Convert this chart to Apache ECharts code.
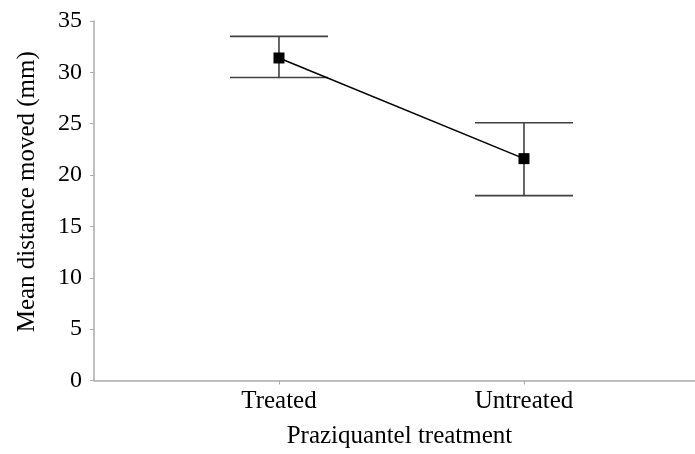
<!DOCTYPE html>
<html>
<head>
<meta charset="utf-8">
<script src="https://cdn.jsdelivr.net/npm/echarts@6/dist/echarts.min.js"></script>
<style>html,body{margin:0;padding:0;background:#fff}#c{width:695px;height:454px}</style>
</head>
<body>
<div id="c"></div>
<script>
var categories = ['Treated', 'Untreated'];
var means = [31.4, 21.6];
var upper = [33.5, 25.1];
var lower = [29.5, 18.0];
var yTicks = [0, 5, 10, 15, 20, 25, 30, 35];

var FONT = '"Liberation Serif", "Times New Roman", serif';
var chart = echarts.init(document.getElementById('c'), null, {renderer: 'canvas'});

var lineData = categories.map(function (c, i) { return [i, means[i]]; });
var errData = categories.map(function (c, i) { return [i, lower[i], upper[i]]; });

chart.setOption({
  animation: false,
  backgroundColor: '#ffffff',
  grid: {left: 94, right: 0, top: 21, bottom: 72, containLabel: false},
  xAxis: {
    type: 'value',
    min: -0.755,
    max: 1.698,
    name: 'Praziquantel treatment',
    nameLocation: 'middle',
    nameGap: 56,
    nameTextStyle: {fontFamily: FONT, fontSize: 25, color: '#000', verticalAlign: 'middle', padding: [0, 0, 0, 10]},
    splitLine: {show: false},
    axisLine: {show: true, onZero: false, lineStyle: {color: '#aaaaaa', width: 1.5}},
    axisTick: {show: true, length: 4, customValues: [0, 1], lineStyle: {color: '#aaaaaa', width: 1}},
    axisLabel: {
      show: true, customValues: [0, 1], margin: 8,
      fontFamily: FONT, fontSize: 25, color: '#000',
      formatter: function (v) { return categories[Math.round(v)] || ''; }
    }
  },
  yAxis: {
    type: 'value',
    min: 0,
    max: 35,
    interval: 5,
    name: 'Mean distance moved (mm)',
    nameLocation: 'middle',
    nameGap: 67,
    nameTextStyle: {fontFamily: FONT, fontSize: 25, color: '#000', verticalAlign: 'middle', padding: [0, 0, 0, 18]},
    splitLine: {show: false},
    axisLine: {show: true, onZero: false, lineStyle: {color: '#aaaaaa', width: 1.5}},
    axisTick: {show: true, length: 4, lineStyle: {color: '#aaaaaa', width: 1}},
    axisLabel: {
      margin: 12, fontFamily: FONT, fontSize: 24, color: '#000',
      formatter: function (v) { return yTicks.indexOf(v) >= 0 ? String(v) : ''; }
    }
  },
  series: [
    {
      type: 'custom',
      data: errData,
      z: 2,
      renderItem: function (params, api) {
        var x = api.value(0);
        var lo = api.coord([x, api.value(1)]);
        var hi = api.coord([x, api.value(2)]);
        var hw = 49;
        var st = {stroke: '#404040', lineWidth: 1.6};
        return {
          type: 'group',
          children: [
            {type: 'line', shape: {x1: lo[0], y1: lo[1], x2: hi[0], y2: hi[1]}, style: st},
            {type: 'line', shape: {x1: hi[0] - hw, y1: hi[1], x2: hi[0] + hw, y2: hi[1]}, style: st},
            {type: 'line', shape: {x1: lo[0] - hw, y1: lo[1], x2: lo[0] + hw, y2: lo[1]}, style: st}
          ]
        };
      }
    },
    {
      type: 'line',
      data: lineData,
      z: 3,
      symbol: 'rect',
      symbolSize: 11,
      lineStyle: {color: '#000', width: 1.5},
      itemStyle: {color: '#000'}
    }
  ]
});
</script>
</body>
</html>
